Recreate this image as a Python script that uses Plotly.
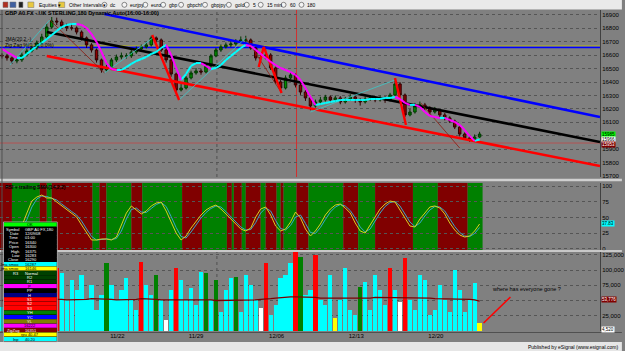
import plotly.graph_objects as go

# ---------------- data ----------------
bars = list(range(97))
close = [16595,16580,16557,16565,16602,16632,16654,16692,16736,16810,
         16855,16848,16818,16803,16803,16773,16729,16677,16639,16565,
         16490,16505,16565,16587,16595,16595,16624,16647,16662,16677,
         16729,16714,16639,16565,16460,16341,16356,16431,16468,16483,
         16475,16520,16595,16639,16662,16677,16684,16699,16714,16714,
         16654,16580,16580,16602,16505,16401,16356,16431,16453,16378,
         16326,16282,16222,16252,16267,16289,16267,16282,16252,16274,
         16289,16267,16252,16274,16282,16267,16282,16267,16304,16386,
         16304,16155,16177,16222,16230,16207,16177,16192,16155,16133,
         16110,16065,16013,15984,15969,15991,16013]
high = [16615,16610,16590,16585,16620,16650,16670,16710,16760,16835,
        16885,16880,16865,16835,16830,16815,16785,16740,16690,16650,
        16575,16530,16580,16605,16620,16615,16640,16665,16680,16700,
        16745,16740,16725,16650,16575,16470,16385,16445,16485,16505,
        16500,16540,16610,16655,16680,16695,16705,16720,16740,16745,
        16725,16665,16600,16665,16615,16515,16415,16450,16470,16465,
        16390,16340,16295,16270,16290,16305,16300,16300,16295,16290,
        16310,16300,16280,16295,16300,16295,16300,16295,16320,16420,
        16400,16315,16200,16245,16255,16245,16220,16215,16200,16170,
        16145,16120,16075,16025,16000,16010,16030]
low = [16575,16560,16535,16540,16550,16590,16620,16640,16680,16725,
       16795,16825,16800,16780,16785,16755,16710,16655,16620,16545,
       16470,16475,16495,16550,16570,16575,16580,16610,16635,16650,
       16665,16695,16625,16545,16440,16320,16330,16345,16420,16455,
       16455,16465,16510,16585,16625,16650,16660,16670,16690,16695,
       16640,16560,16560,16570,16490,16385,16335,16345,16420,16360,
       16305,16260,16190,16210,16240,16255,16250,16255,16235,16240,
       16260,16245,16225,16240,16260,16250,16255,16245,16255,16295,
       16290,16140,16145,16165,16210,16190,16160,16165,16140,16115,
       16095,16050,15995,15970,15955,15960,15985]
first_open = 16600
jma = [16647,16624,16602,16580,16580,16610,16639,16669,16692,16721,
       16751,16781,16810,16826,16833,16833,16826,16803,16758,16699,
       16624,16542,16497,16490,16490,16512,16535,16557,16572,16587,
       16610,16624,16654,16677,16602,16505,16416,16460,16520,16542,
       16542,16520,16497,16505,16527,16565,16595,16624,16654,16677,
       16669,16639,16610,16580,16550,16527,16505,16490,16475,16453,
       16416,16356,16289,16230,16237,16245,16252,16259,16267,16267,
       16267,16267,16267,16267,16274,16274,16274,16282,16282,16289,
       16274,16245,16230,16230,16215,16177,16148,16140,16133,16133,
       16118,16103,16080,16043,15998,15962,15972]
rsi = [None,None,20.6,28.6,36.5,57.1,76.2,82.5,85.7,81.0,
       81.0,74.6,68.3,61.9,57.1,50.8,38.1,25.4,14.3,14.3,
       15.9,15.9,14.3,19.0,38.1,57.1,68.3,61.9,55.6,60.3,
       68.3,73.0,74.6,60.3,42.9,25.4,14.3,20.6,33.3,44.4,
       54.0,61.9,66.7,69.8,63.5,55.6,47.6,38.1,31.7,28.6,
       33.3,50.8,63.5,66.7,54.0,36.5,28.6,31.7,42.9,58.7,
       49.2,31.7,20.6,28.6,39.7,54.0,63.5,69.8,71.4,65.1,
       57.1,41.3,28.6,25.4,38.1,50.8,63.5,71.4,76.2,74.6,
       61.9,49.2,36.5,34.9,47.6,57.1,66.7,68.3,65.1,55.6,
       41.3,30.2,22.2,19.0,20.6,28.6,39.7]
volume = [40000,30000,55000,45000,35000,60000,50000,30000,45000,40000,
          55000,103000,95000,51000,84000,67000,92000,51000,75000,34000,
          59000,111000,75000,51000,67000,87000,51000,34000,113000,75000,
          59000,92000,51000,18000,67000,103000,84000,51000,70000,43000,
          97000,95000,51000,84000,31000,67000,87000,89000,31000,92000,
          75000,51000,38000,111000,26000,43000,87000,92000,111000,129000,
          121000,59000,67000,125000,51000,43000,92000,21000,51000,103000,
          34000,26000,72000,80000,34000,92000,67000,43000,103000,67000,
          48000,120000,51000,34000,92000,84000,26000,34000,75000,51000,
          31000,100000,67000,31000,51000,79000,13000]
vol_flag = {11: 'r', 21: 'g', 28: 'r', 31: 'g', 33: 'w', 35: 'r', 41: 'g', 43: 'g',
            47: 'g', 52: 'w', 53: 'r', 59: 'r', 60: 'g', 63: 'r', 67: 'y', 72: 'g',
            78: 'r', 80: 'w', 81: 'r', 96: 'y'}
vol_ma = [50000,50000,51000,51000,52000,52000,52000,53000,53000,52000,52000,
          52000,52000,51000,51000,51000,52000,52000,53000,53000,52000,52000,52000,51000,
          51000,51000,52000,52000,53000,53000,52000,52000,51000,51000,51000,52000,52000,51000,51000,51000,51000,
          51000,51000,50000,50000,50000,51000,51000,51000,51000,51000,51000,52000,52000,53000,54000,55000,55000,56000,56000,56000,
          56000,55000,55000,54000,54000,54000,54000,54000,53000,53000,53000,53000,54000,54000,55000,55000,55000,54000,54000,54000,
          54000,54000,54000,54000,54000,54000,53000,53000,53000,53000,53000,53000,53000,52000,51000,49000]

# RSI background state bands (bar units)
band_edges = [-0.4, 2.0, 7.6, 9.0, 10.0, 18.2, 19.6, 21.0, 26.0, 28.2, 36.2, 40.2, 45.2, 46.2,
              46.6, 48.2, 49.0, 52.0, 53.0, 55.2, 56.0, 56.6, 59.2, 61.6, 68.6, 71.6, 75.0,
              82.6, 87.6, 93.6, 96.6]
band_state = ['dn', 'up'] * 15

# trend lines (bar, price)
upper_chan = ([20.6, 120.2], [16907, 16140])
mid_chan = ([9.0, 120.2], [16773, 15954])
lower_chan = ([9.0, 120.2], [16594, 15775])
level_blue = 16658
level_olive = 16672
level_red = 15946

# zig zag pivots
zz_up_x = [1.6, 9.6, None, 20.6, 30.6, None, 35.6, 49.0, None, 62.0, 79.0]
zz_up_y = [16527, 16863, None, 16468, 16736, None, 16267, 16729, None, 16177, 16416]
zz_dn_x = [9.6, 20.6, None, 49.0, 56.2, None, 84.2, 92.0]
zz_dn_y = [16863, 16468, None, 16729, 16319, None, 16244, 15909]
zz_red_x = [30.2, 35.6, None, 51.6, 52.6, 56.2, None, 79.0, 81.2]
zz_red_y = [16751, 16267, None, 16513, 16662, 16319, None, 16431, 16081]

price_ticks = list(range(15700, 17000, 100))
price_tick_text = ['' if v == 16000 else str(v) for v in price_ticks]
rsi_ticks = [0, 25, 50, 75, 100]
vol_ticks = [25000, 50000, 75000, 100000, 125000]
vol_tick_text = ['25,000', '', '75,000', '100,000', '125,000']
date_ticks = [23.2, 39.0, 55.2, 71.2, 87.2]
date_labels = ['11/22', '11/29', '12/06', '12/13', '12/20']
grid_day = 43.2
cursor_bar = 59.2

# ---------------- layout geometry ----------------
W, H = 625, 351
ML, MR, MT, MB = 0, 22, 10, 20
PW = W - ML - MR
PH = H - MT - MB
FONT = "Liberation Sans, Arial, sans-serif"


def pxx(px):
    return px / PW


def pxy(py):
    return (H - MB - py) / PH


open_ = [first_open] + close[:-1]
fig = go.Figure()

# ---- price pane ----
fig.add_trace(go.Candlestick(
    x=bars, open=open_, high=high, low=low, close=close, xaxis='x', yaxis='y',
    increasing=dict(line=dict(color='#003800', width=1), fillcolor='#009000'),
    decreasing=dict(line=dict(color='#300000', width=1), fillcolor='#900000'),
    whiskerwidth=0, hoverinfo='skip'))

for (xs, ys), col in [(upper_chan, '#0000FF'), (mid_chan, '#000000'), (lower_chan, '#FF0000')]:
    fig.add_trace(go.Scatter(x=xs, y=ys, mode='lines', line=dict(color=col, width=2.6),
                             xaxis='x', yaxis='y', hoverinfo='skip'))

fig.add_trace(go.Scatter(x=zz_up_x, y=zz_up_y, mode='lines', line=dict(color='#3CC8C8', width=0.8),
                         xaxis='x', yaxis='y', connectgaps=False, hoverinfo='skip'))
fig.add_trace(go.Scatter(x=zz_dn_x, y=zz_dn_y, mode='lines', line=dict(color='#8B1A10', width=0.8),
                         xaxis='x', yaxis='y', connectgaps=False, hoverinfo='skip'))
fig.add_trace(go.Scatter(x=zz_red_x, y=zz_red_y, mode='lines', line=dict(color='#FF0000', width=2.4),
                         xaxis='x', yaxis='y', connectgaps=False, hoverinfo='skip'))

ux, uy, dx, dy = [], [], [], []
for i in range(len(jma) - 1):
    if jma[i + 1] >= jma[i]:
        ux += [bars[i], bars[i + 1], None]
        uy += [jma[i], jma[i + 1], None]
    else:
        dx += [bars[i], bars[i + 1], None]
        dy += [jma[i], jma[i + 1], None]
fig.add_trace(go.Scatter(x=ux, y=uy, mode='lines', line=dict(color='#00FFFF', width=2),
                         xaxis='x', yaxis='y', hoverinfo='skip'))
fig.add_trace(go.Scatter(x=dx, y=dy, mode='lines', line=dict(color='#FF00FF', width=2),
                         xaxis='x', yaxis='y', hoverinfo='skip'))

# ---- RSI pane ----
sma = [None] + [None if (rsi[i] is None or rsi[i - 1] is None) else (rsi[i] + rsi[i - 1]) / 2
                for i in range(1, len(rsi))]
fig.add_trace(go.Scatter(x=bars, y=sma, mode='lines', line=dict(color='#38A8C8', width=1),
                         xaxis='x2', yaxis='y2', hoverinfo='skip'))
fig.add_trace(go.Scatter(x=bars, y=rsi, mode='lines', line=dict(color='#D8D020', width=1),
                         xaxis='x2', yaxis='y2', hoverinfo='skip'))

# ---- volume pane ----
cmap = {'c': '#00FFFF', 'r': '#FF0000', 'g': '#008000', 'w': '#FFFFFF', 'y': '#FFFF00'}
vcols = [cmap[vol_flag.get(i, 'c')] for i in bars]
fig.add_trace(go.Bar(x=bars, y=volume, marker=dict(color=vcols, line=dict(width=0)), width=0.85,
                     xaxis='x3', yaxis='y3', hoverinfo='skip'))
fig.add_trace(go.Scatter(x=bars, y=vol_ma, mode='lines', line=dict(color='#7A0000', width=1.3),
                         xaxis='x3', yaxis='y3', hoverinfo='skip'))

shapes = []
# RSI bands
for i, st in enumerate(band_state):
    shapes.append(dict(type='rect', xref='x2', yref='y2 domain', x0=band_edges[i], x1=band_edges[i + 1],
                       y0=0, y1=1, fillcolor='#008000' if st == 'up' else '#800000',
                       line=dict(width=0), layer='below'))
# horizontal levels in price pane
for lv, col, wd in [(level_olive, '#A0A040', 1), (level_blue, '#0000FF', 1.6), (level_red, '#C04848', 0.8)]:
    shapes.append(dict(type='line', xref='x domain', yref='y', x0=0, x1=1, y0=lv, y1=lv,
                       line=dict(color=col, width=wd), layer='below'))
# vertical lines
shapes.append(dict(type='line', xref='x', yref='y domain', x0=cursor_bar, x1=cursor_bar, y0=0, y1=1,
                   line=dict(color='#D03030', width=1), layer='below'))
for ax in ['', '3']:
    shapes.append(dict(type='line', xref='x' + ax, yref='y' + ax + ' domain', x0=grid_day, x1=grid_day,
                       y0=0, y1=1, line=dict(color='#505050', width=1, dash='dot'), layer='below'))
shapes.append(dict(type='line', xref='x3', yref='y3 domain', x0=cursor_bar, x1=cursor_bar, y0=0, y1=1,
                   line=dict(color='#505050', width=1, dash='dot'), layer='below'))

# pane separators and frames
shapes.append(dict(type='line', xref='paper', yref='paper', x0=0, x1=W / PW, y0=pxy(180), y1=pxy(180),
                   line=dict(color='#D0D0D0', width=2.5)))
shapes.append(dict(type='line', xref='paper', yref='paper', x0=0, x1=W / PW, y0=pxy(251), y1=pxy(251),
                   line=dict(color='#E0E0E0', width=1.5)))
shapes.append(dict(type='line', xref='paper', yref='paper', x0=0, x1=W / PW, y0=pxy(332.5), y1=pxy(332.5),
                   line=dict(color='#505050', width=1)))
shapes.append(dict(type='line', xref='paper', yref='paper', x0=pxx(2), x1=pxx(2), y0=pxy(10), y1=pxy(332),
                   line=dict(color='#505050', width=1)))
# toolbar and status bar
shapes.append(dict(type='rect', xref='paper', yref='paper', x0=0, x1=W / PW, y0=pxy(0), y1=pxy(9.5),
                   fillcolor='#EAEAEA', line=dict(width=0)))
shapes.append(dict(type='rect', xref='paper', yref='paper', x0=0, x1=W / PW, y0=pxy(342), y1=pxy(351),
                   fillcolor='#E6E6E6', line=dict(width=0)))
# toolbar icons
for x0, x1, col in [(3, 8, '#B03020'), (10, 16, '#4060A0'), (19, 23, '#202020'),
                    (28, 34, '#E8C840'), (59, 65, '#E8C840')]:
    shapes.append(dict(type='rect', xref='paper', yref='paper', x0=pxx(x0), x1=pxx(x1), y0=pxy(2),
                       y1=pxy(7.5), fillcolor=col, line=dict(color='#707070', width=0.5)))
toolbar = [('Equities ▾', 37), ('Other Intervals ▾', 67), ('dc', 109), ('eurjpy', 129), ('euro', 150),
           ('gbp', 168), ('gbpchf', 186), ('gbpjpy', 210), ('gold', 234), ('5', 252), ('15 min', 266),
           ('60', 289), ('180', 307)]
annotations = []
for k, (t, lx) in enumerate(toolbar):
    annotations.append(dict(xref='paper', yref='paper', x=pxx(lx), y=pxy(4.8), text=t, showarrow=False,
                            xanchor='left', yanchor='middle', font=dict(size=5, color='#000000', family=FONT)))
    if k >= 2:
        shapes.append(dict(type='circle', xref='paper', yref='paper', x0=pxx(lx - 6.5), x1=pxx(lx - 1.5),
                           y0=pxy(2.3), y1=pxy(7.3), fillcolor='#F4F4F4', line=dict(color='#404040', width=0.6)))

# data window popup
rows = [('OK', '', '#00FF00', '#000000'),
        ('Symbol', 'GBP A0 FX,180', '#000000', '#FFFFFF'),
        ('Date', '12/09/08', '#000000', '#FFFFFF'),
        ('Time', '01:00', '#000000', '#FFFFFF'),
        ('Price', '16340', '#000000', '#FFFFFF'),
        ('Open', '16300', '#000000', '#FFFFFF'),
        ('High', '16375', '#000000', '#FFFFFF'),
        ('Low', '16283', '#000000', '#FFFFFF'),
        ('Close', '16290', '#000000', '#FFFFFF'),
        ('Jma smoo', '16287', '#00FFFF', '#000000'),
        ('jma smoo', '16146', '#FFFF00', '#000000'),
        ('R3', 'Normal', '#004000', '#FFFFFF'),
        ('R2', '', '#004000', '#FFFFFF'),
        ('R1', '', '#004000', '#FFFFFF'),
        ('P', '', '#FF00FF', '#000000'),
        ('PP', '', '#000000', '#FFFFFF'),
        ('H', '', '#000080', '#FFFFFF'),
        ('S1', '', '#FF0000', '#FFFFFF'),
        ('S2', '', '#FF0000', '#FFFFFF'),
        ('S3', '', '#FF0000', '#FFFFFF'),
        ('YH', '', '#008000', '#FFFFFF'),
        ('YC', '', '#0000FF', '#FFFFFF'),
        ('YL', '', '#808000', '#FFFFFF'),
        ('16222', '', '#FF00FF', '#000000'),
        ('ZigZag', '16351', '#800000', '#FFFFFF'),
        ('rpu 40.47', '', '#FFFF00', '#000000'),
        ('Inp', '40.20', '#00FFFF', '#000000')]
top, rh = 222.5, 4.4
shapes.append(dict(type='rect', xref='paper', yref='paper', x0=pxx(3.5), x1=pxx(57.5), y0=pxy(top - 0.5),
                   y1=pxy(top + rh * len(rows) + 0.5), fillcolor='#000000', line=dict(color='#C0C0C0', width=0.8)))
for r, (lab, val, bg, fg) in enumerate(rows):
    y0 = top + r * rh
    shapes.append(dict(type='rect', xref='paper', yref='paper', x0=pxx(4), x1=pxx(57), y0=pxy(y0),
                       y1=pxy(y0 + rh - 0.3), fillcolor=bg, line=dict(width=0)))
    yc = pxy(y0 + rh / 2)
    if val:
        annotations.append(dict(xref='paper', yref='paper', x=pxx(21), y=yc, text=lab, showarrow=False,
                                xanchor='right', yanchor='middle', font=dict(size=4, color=fg, family=FONT)))
        annotations.append(dict(xref='paper', yref='paper', x=pxx(23), y=yc, text=val, showarrow=False,
                                xanchor='left', yanchor='middle', font=dict(size=4, color=fg, family=FONT)))
    else:
        annotations.append(dict(xref='paper', yref='paper', x=pxx(30), y=yc, text=lab, showarrow=False,
                                xanchor='center', yanchor='middle', font=dict(size=4, color=fg, family=FONT)))

# texts
annotations += [
    dict(xref='paper', yref='paper', x=pxx(3), y=pxy(13.5),
         text='<b>GBP A0 FX - UK STERLING,180 Dynamic,Auto(16:00-16:00)</b>', showarrow=False,
         xanchor='left', yanchor='middle', font=dict(size=5.5, color='#000000', family=FONT)),
    dict(xref='paper', yref='paper', x=pxx(3), y=pxy(39.5), text='JMA(20,2,-)', showarrow=False,
         xanchor='left', yanchor='middle', font=dict(size=5, color='#000000', family=FONT)),
    dict(xref='paper', yref='paper', x=pxx(3), y=pxy(45), text='Zig Zag %(0.10,0.0%)', showarrow=False,
         xanchor='left', yanchor='middle', font=dict(size=5, color='#000000', family=FONT)),
    dict(xref='paper', yref='paper', x=pxx(3), y=pxy(186.5), text='<b>RSI + trailing SMA(14,2,2)</b>',
         showarrow=False, xanchor='left', yanchor='middle', font=dict(size=5, color='#000000', family=FONT)),
    dict(xref='paper', yref='paper', x=pxx(492), y=pxy(289), text='where has everyone gone ?',
         showarrow=False, xanchor='left', yanchor='middle', font=dict(size=5.5, color='#000000', family=FONT)),
    dict(xref='paper', yref='paper', x=W / PW - pxx(2), y=pxy(347),
         text='Published by eSignal (www.esignal.com)', showarrow=False, xanchor='right', yanchor='middle',
         font=dict(size=5, color='#000000', family=FONT)),
]
# right-axis value boxes
for yy, txt, bg, fg in [(134, '15985', '#00FF00', '#000000'), (139.3, '15966', '#FFFFFF', '#000000'),
                        (144.6, '15953', '#800000', '#FFFFFF'), (223, '37.83', '#00FFFF', '#000000'),
                        (299, '53,776', '#800000', '#FFFFFF'), (329, '4,520', '#FFFFFF', '#000000')]:
    annotations.append(dict(xref='paper', yref='paper', x=1.0 + pxx(1), y=pxy(yy), text=txt, showarrow=False,
                            xanchor='left', yanchor='middle', bgcolor=bg, borderpad=0,
                            font=dict(size=4.5, color=fg, family=FONT)))
# arrow
shapes.append(dict(type='line', xref='paper', yref='paper', x0=pxx(486), y0=pxy(323), x1=pxx(513), y1=pxy(297),
                   line=dict(color='#FF0000', width=1.6)))

grid = dict(showgrid=True, gridcolor='#555555', griddash='dot', gridwidth=1)
xcommon = dict(range=[-0.4, 120.2], showgrid=False, zeroline=False, showticklabels=False, ticks='',
               fixedrange=True)
tfont = dict(size=6, color='#000000', family=FONT)

fig.update_layout(
    width=W, height=H, margin=dict(l=ML, r=MR, t=MT, b=MB),
    paper_bgcolor='#808080', plot_bgcolor='#808080', showlegend=False,
    bargap=0, hovermode=False,
    xaxis=dict(**xcommon, anchor='y', domain=[0, 1], rangeslider=dict(visible=False)),
    xaxis2=dict(**xcommon, anchor='y2', domain=[0, 1]),
    xaxis3=dict(range=[-0.4, 120.2], anchor='y3', domain=[0, 1], showgrid=False, zeroline=False,
                tickvals=date_ticks, ticktext=date_labels, ticks='', tickfont=tfont),
    yaxis=dict(domain=[pxy(177), 1.0], range=[15693, 16937], side='right', tickvals=price_ticks,
               ticktext=price_tick_text, ticks='', tickfont=tfont, showline=True, linecolor='#404040',
               linewidth=1, zeroline=False, anchor='x', **grid),
    yaxis2=dict(domain=[pxy(250), pxy(183)], range=[-1.6, 104.8], side='right', tickvals=rsi_ticks,
                ticks='', tickfont=tfont, showline=True, linecolor='#404040', linewidth=1,
                zeroline=False, anchor='x2', **grid),
    yaxis3=dict(domain=[0, pxy(252)], range=[0, 129500], side='right', tickvals=vol_ticks,
                ticktext=vol_tick_text, ticks='', tickfont=tfont, showline=True, linecolor='#404040',
                linewidth=1, zeroline=False, anchor='x3', **grid),
    shapes=shapes, annotations=annotations,
)

fig.write_html('out.html')
